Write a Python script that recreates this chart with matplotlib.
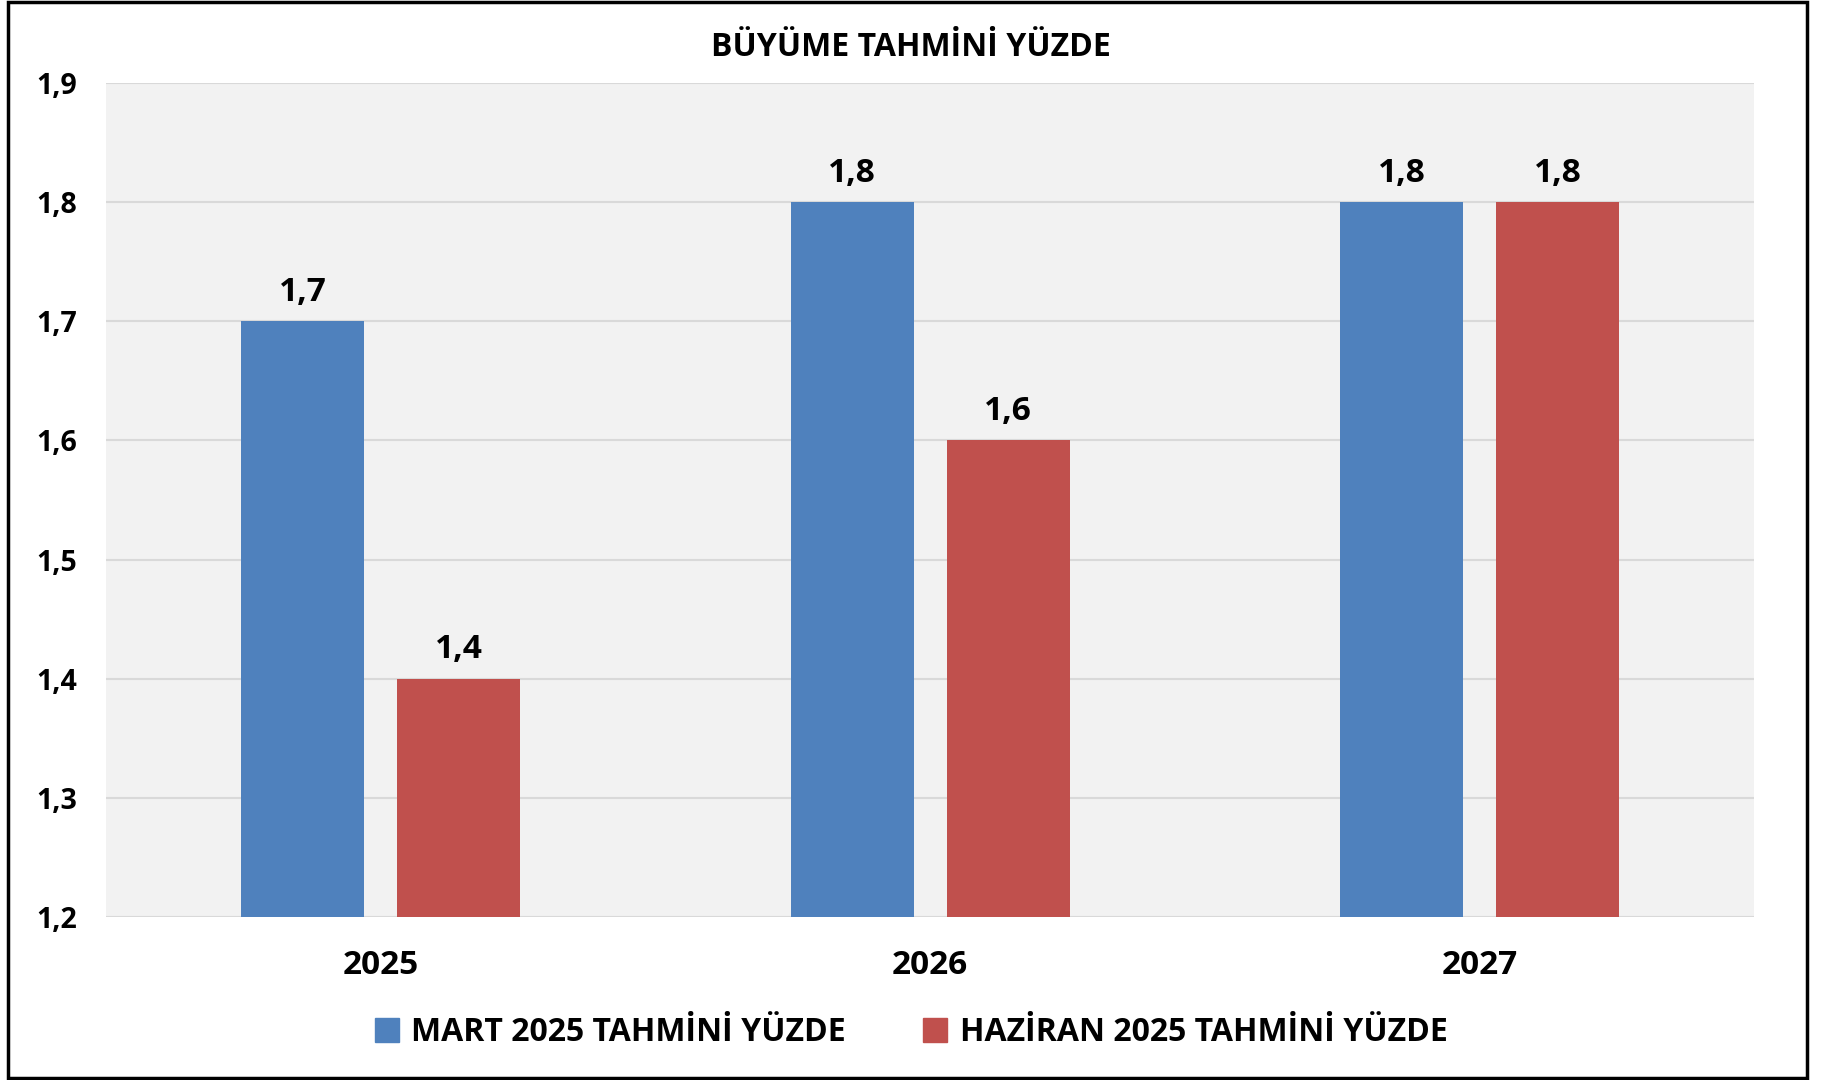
import matplotlib
matplotlib.use("Agg")
import matplotlib.pyplot as plt
import numpy as np
from matplotlib.ticker import FuncFormatter, MultipleLocator
from matplotlib.patches import Rectangle, Patch

plt.rcParams['font.family'] = ['Open Sans', 'DejaVu Sans']
plt.rcParams['font.weight'] = 'bold'

# data
years = ['2025', '2026', '2027']
mart = [1.7, 1.8, 1.8]
haziran = [1.4, 1.6, 1.8]
series_names = ['MART 2025 TAHMİNİ YÜZDE', 'HAZİRAN 2025 TAHMİNİ YÜZDE']
title = 'BÜYÜME TAHMİNİ YÜZDE'

blue = '#4f81bd'
red = '#c0504d'

fig = plt.figure(figsize=(18.22, 10.8), dpi=100)
ax = fig.add_axes([0.0582, 0.1509, 0.9045, 0.7722])
ax.set_facecolor('#f2f2f2')

x = np.arange(len(years))
w = 0.224
off = 0.142
b1 = ax.bar(x - off, np.array(mart) - 1.2, w, bottom=1.2, color=blue, zorder=3)
b2 = ax.bar(x + off, np.array(haziran) - 1.2, w, bottom=1.2, color=red, zorder=3)

def comma(v):
    return f'{v:.1f}'.replace('.', ',')

for bars, vals in ((b1, mart), (b2, haziran)):
    for rect, v in zip(bars, vals):
        ax.annotate(comma(v), (rect.get_x() + rect.get_width() / 2, v),
                    xytext=(0, 9), textcoords='offset points',
                    ha='center', va='bottom', fontsize=24, fontweight='bold')

ax.set_xlim(-0.5, 2.5)
ax.set_ylim(1.2, 1.9)
ax.yaxis.set_major_locator(MultipleLocator(0.1))
ax.yaxis.set_major_formatter(FuncFormatter(lambda v, p: comma(v)))
ax.set_xticks(x)
ax.set_xticklabels(years)
ax.grid(axis='y', color='#d9d9d9', linewidth=1.5, zorder=0)
ax.set_axisbelow(True)
for s in ax.spines.values():
    s.set_visible(False)
ax.tick_params(axis='y', length=0, labelsize=20.5, pad=21)
ax.tick_params(axis='x', length=0, labelsize=24, pad=23)
for lab in ax.get_xticklabels() + ax.get_yticklabels():
    lab.set_fontweight('bold')

fig.text(0.5, 0.956, title, ha='center', va='center', fontsize=23, fontweight='bold')

handles = [Patch(color=blue), Patch(color=red)]
fig.legend(handles, series_names, loc='center', bbox_to_anchor=(0.5, 0.044),
           ncol=2, frameon=False, handlelength=0.75, handleheight=0.75,
           handletextpad=0.4, columnspacing=2.4, prop={'weight': 'bold', 'size': 23})

fig.patches.append(Rectangle((0.0045, 0.002), 0.9875, 0.996, transform=fig.transFigure,
                             fill=False, edgecolor='black', linewidth=2.5))

fig.savefig('out.png', dpi=100)
